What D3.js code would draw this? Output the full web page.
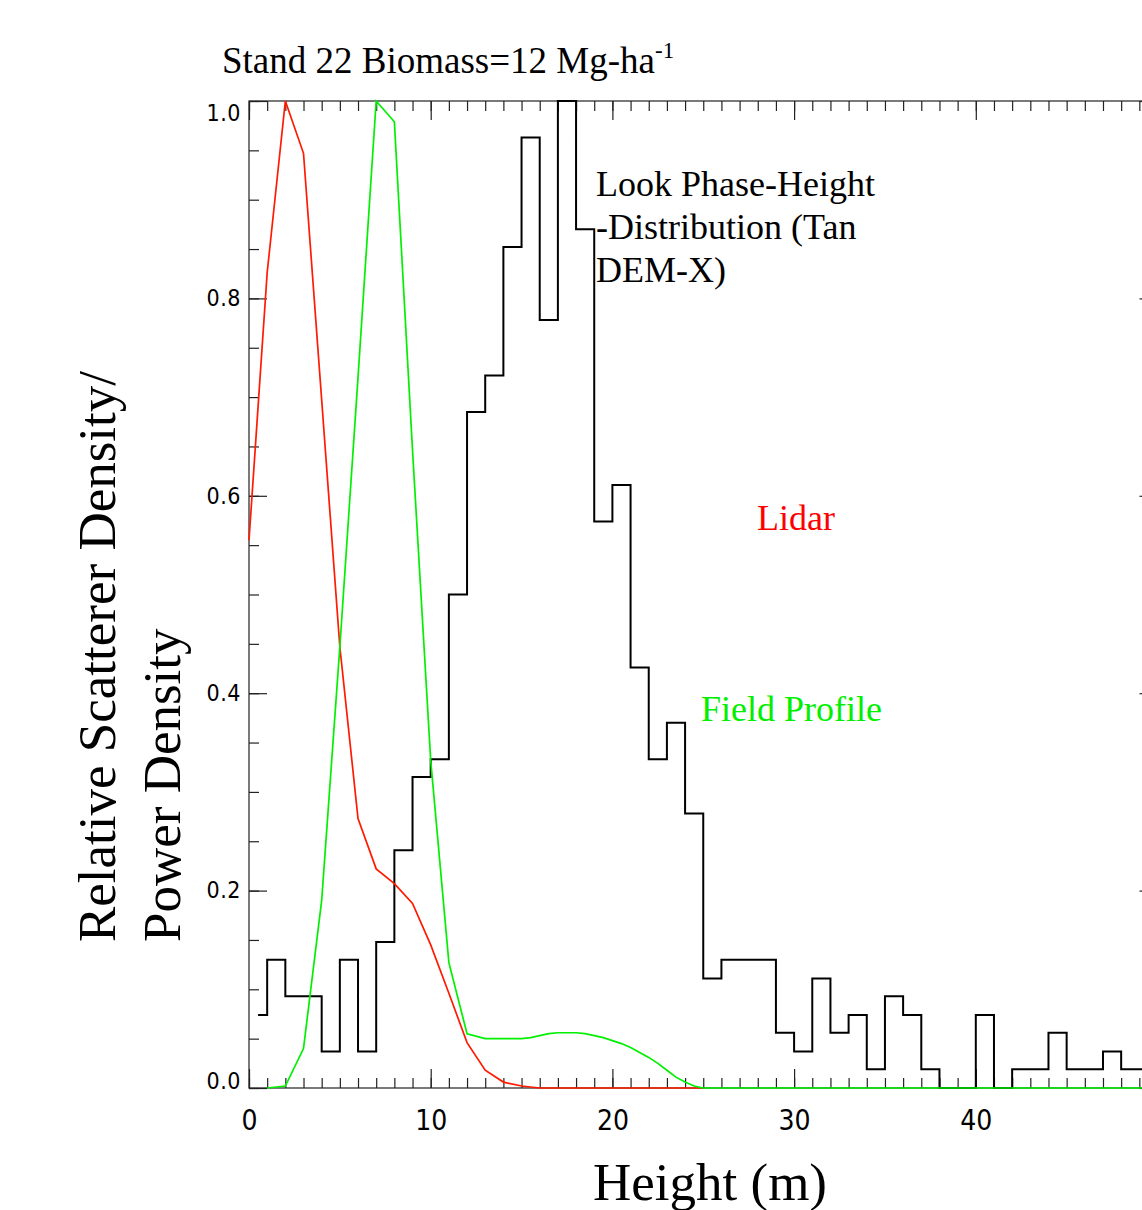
<!DOCTYPE html>
<html>
<head>
<meta charset="utf-8">
<script src="https://cdn.jsdelivr.net/npm/d3@7"></script>
<style>
  body { margin: 0; background: #fff; }
  svg { display: block; }
</style>
</head>
<body>
<div id="chart"></div>
<script>
// phase-height histogram (TanDEM-X), 1 m bins, value at bin centre
var histCenters = d3.range(0.5, 50, 1);
var histValues = [0.074, 0.130, 0.093, 0.093, 0.037, 0.130, 0.037, 0.148, 0.241, 0.315,
                  0.333, 0.500, 0.685, 0.722, 0.852, 0.963, 0.778, 1.000, 0.870, 0.574,
                  0.611, 0.426, 0.333, 0.370, 0.278, 0.111, 0.130, 0.130, 0.130, 0.056,
                  0.037, 0.111, 0.056, 0.074, 0.019, 0.093, 0.074, 0.019, 0.000, 0.000,
                  0.074, 0.000, 0.019, 0.019, 0.056, 0.019, 0.019, 0.037, 0.019, 0.019];

// lidar profile
var lidarHeights = [0, 1, 2, 3, 4, 5, 6, 7, 8, 9, 10, 11, 12, 13, 14, 15, 16, 20, 25];
var lidarValues  = [0.555, 0.826, 1.0, 0.947, 0.697, 0.447, 0.273, 0.222, 0.207, 0.187,
                    0.145, 0.096, 0.046, 0.018, 0.006, 0.002, 0, 0, 0];

// field profile
var fieldHeights = [1, 2, 3, 4, 5, 6, 7, 8, 9, 10, 11, 12, 13, 14, 15, 15.5, 16, 16.5, 17, 17.5,
                    18, 18.5, 19, 19.5, 20, 20.5, 21, 21.5, 22, 22.5, 23, 23.5, 24, 24.5, 25, 50];
var fieldValues  = [0, 0.002, 0.04, 0.19, 0.447, 0.72, 1.0, 0.979, 0.646, 0.332, 0.127, 0.055,
                    0.05, 0.05, 0.05, 0.051, 0.053, 0.055, 0.056, 0.056, 0.056, 0.055, 0.053,
                    0.051, 0.048, 0.045, 0.041, 0.036, 0.031, 0.025, 0.018, 0.011, 0.006, 0.002, 0, 0];

var xTicks = [0, 10, 20, 30, 40];   // labelled (50 falls off the picture)
var yTicks = [0, 0.2, 0.4, 0.6, 0.8, 1.0];

var width = 1142, height = 1210;

var svg = d3.select("#chart")
    .append("svg")
    .attr("width", width)
    .attr("height", height);

var x = d3.scaleLinear().domain([0, 50]).range([249, 1157.5]);
var y = d3.scaleLinear().domain([0, 1]).range([1088, 101]);

var xMinor = d3.range(0, 51, 1);
var xMajor = d3.range(0, 51, 10);
var yMinor = d3.range(0, 1.0001, 0.05);

// minor ticks on all four sides
svg.append("g").attr("class", "ax")
    .attr("transform", "translate(0,1088)")
    .call(d3.axisBottom(x).tickValues(xMinor).tickSize(-10).tickFormat(""));
svg.append("g").attr("class", "ax")
    .attr("transform", "translate(0,101)")
    .call(d3.axisTop(x).tickValues(xMinor).tickSize(-10).tickFormat(""));
svg.append("g").attr("class", "ax")
    .attr("transform", "translate(249,0)")
    .call(d3.axisLeft(y).tickValues(yMinor).tickSize(-10).tickFormat(""));
svg.append("g").attr("class", "ax")
    .attr("transform", "translate(1157.5,0)")
    .call(d3.axisRight(y).tickValues(yMinor).tickSize(-10).tickFormat(""));

// major ticks
svg.append("g").attr("class", "ax")
    .attr("transform", "translate(0,1088)")
    .call(d3.axisBottom(x).tickValues(xMajor).tickSize(-19).tickFormat(""));
var xb = svg.append("g").attr("class", "ax")
    .attr("transform", "translate(0,1088)")
    .call(d3.axisBottom(x).tickValues(xTicks).tickSize(0).tickPadding(22).tickFormat(d3.format("d")));
svg.append("g").attr("class", "ax")
    .attr("transform", "translate(0,101)")
    .call(d3.axisTop(x).tickValues(xMajor).tickSize(-19).tickFormat(""));
var yl = svg.append("g").attr("class", "ax")
    .attr("transform", "translate(249,0)")
    .call(d3.axisLeft(y).tickValues(yTicks).tickSize(-18).tickPadding(8).tickFormat(d3.format(".1f")));
svg.append("g").attr("class", "ax")
    .attr("transform", "translate(1157.5,0)")
    .call(d3.axisRight(y).tickValues(yTicks).tickSize(-18).tickFormat(""));

svg.selectAll(".ax .domain").remove();
svg.selectAll(".ax line").attr("stroke", "#222").attr("stroke-width", 1.2);

xb.selectAll("text")
    .attr("font-family", "'Liberation Sans Narrow', 'DejaVu Sans Condensed', sans-serif")
    .attr("font-size", 28)
    .attr("fill", "#000");
yl.selectAll("text")
    .attr("font-family", "'DejaVu Sans Condensed', 'Liberation Sans', sans-serif")
    .attr("font-size", 23)
    .attr("letter-spacing", 0.5)
    .attr("fill", "#000")
    .attr("dy", function(d) { return d === 1 ? "0.85em" : (d === 0 ? "0em" : "0.32em"); });

// frame
svg.append("rect")
    .attr("x", 249).attr("y", 101)
    .attr("width", 1157.5 - 249).attr("height", 1088 - 101)
    .attr("fill", "none").attr("stroke", "#222").attr("stroke-width", 1.2);

// histogram, IDL psym=10 style
svg.append("path")
    .datum(histCenters.map(function(c, i) { return [c, histValues[i]]; }))
    .attr("fill", "none").attr("stroke", "#000").attr("stroke-width", 2)
    .attr("d", d3.line().x(d => x(d[0])).y(d => y(d[1])).curve(d3.curveStep));

// lidar
svg.append("path")
    .datum(lidarHeights.map(function(h, i) { return [h, lidarValues[i]]; }))
    .attr("fill", "none").attr("stroke", "#ff1a00").attr("stroke-width", 1.7)
    .attr("d", d3.line().x(d => x(d[0])).y(d => y(d[1])));

// field profile
svg.append("path")
    .datum(fieldHeights.map(function(h, i) { return [h, fieldValues[i]]; }))
    .attr("fill", "none").attr("stroke", "#00f000").attr("stroke-width", 1.7)
    .attr("d", d3.line().x(d => x(d[0])).y(d => y(d[1])));

var serif = "'Liberation Serif', 'Times New Roman', serif";

// title
var title = svg.append("text")
    .attr("x", 222).attr("y", 73)
    .attr("font-family", serif).attr("font-size", 37).attr("fill", "#000");
title.append("tspan").text("Stand 22 Biomass=12 Mg-ha");
title.append("tspan").attr("font-size", 23).attr("dy", -15).text("-1");

// series labels
var lookLines = ["Look Phase-Height", "-Distribution (Tan", "DEM-X)"];
svg.append("g").selectAll("text")
    .data(lookLines)
    .join("text")
    .attr("x", 596)
    .attr("y", (d, i) => 196 + i * 43)
    .attr("font-family", serif).attr("font-size", 36).attr("fill", "#000")
    .text(d => d);

svg.append("text")
    .attr("x", 757).attr("y", 530)
    .attr("font-family", serif).attr("font-size", 36).attr("fill", "#ff0000")
    .text("Lidar");

svg.append("text")
    .attr("x", 701).attr("y", 721)
    .attr("font-family", serif).attr("font-size", 36).attr("fill", "#00f000")
    .text("Field Profile");

// axis titles
svg.append("text")
    .attr("x", 593).attr("y", 1200)
    .attr("font-family", serif).attr("font-size", 53).attr("fill", "#000")
    .text("Height (m)");

var yTitle = ["Relative Scatterer Density/", "Power Density"];
svg.append("g").selectAll("text")
    .data(yTitle)
    .join("text")
    .attr("transform", (d, i) => "translate(" + (115 + i * 65) + ",942) rotate(-90)")
    .attr("font-family", serif).attr("font-size", 53).attr("fill", "#000")
    .text(d => d);
</script>
</body>
</html>
